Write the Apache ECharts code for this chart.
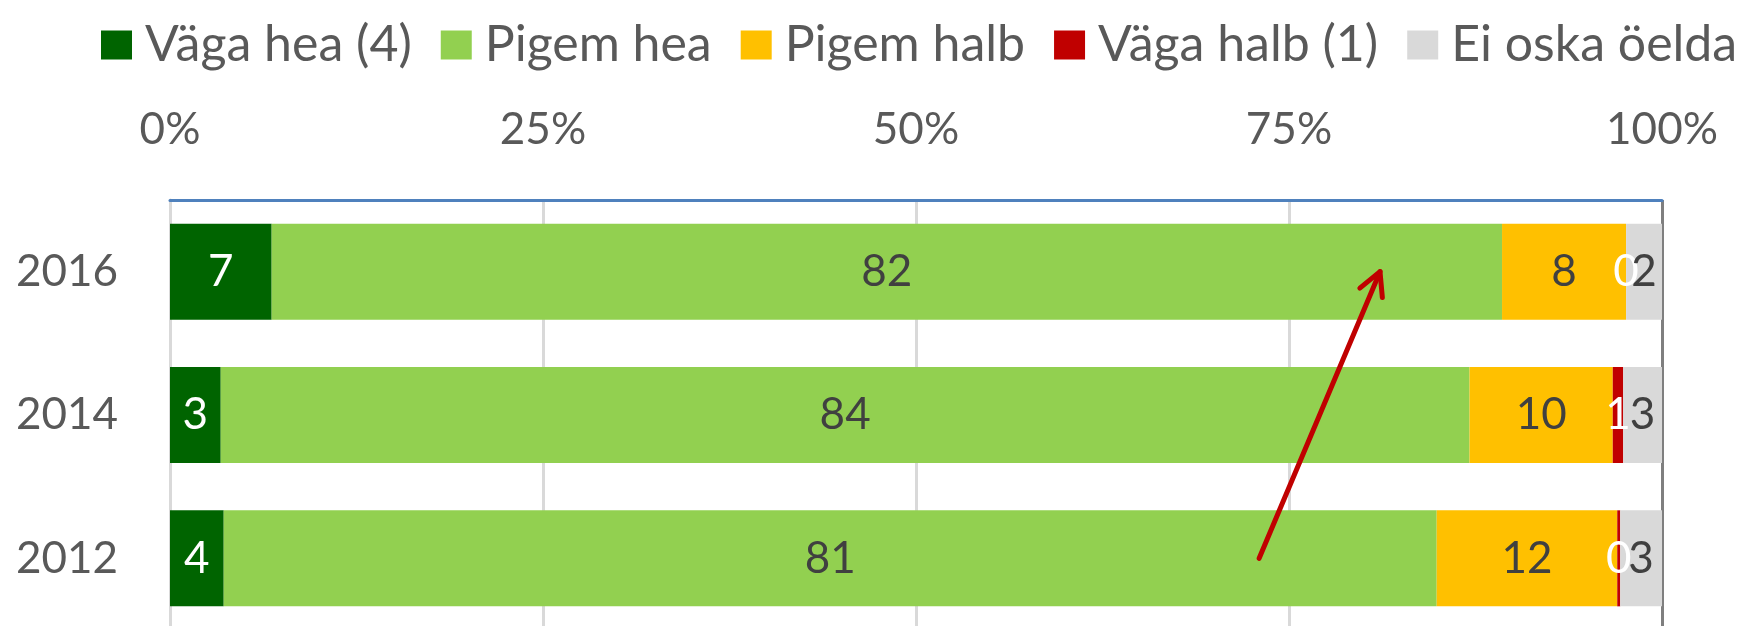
<!DOCTYPE html>
<html>
<head>
<meta charset="utf-8">
<title>Hinnang</title>
<script src="https://cdn.jsdelivr.net/npm/echarts@6/dist/echarts.min.js"></script>
<style>
    html, body { margin: 0; padding: 0; background: #fff; }
    #main { width: 1744px; height: 626px; }
</style>
</head>
<body>
<div id="main"></div>
<script>
// aastad (alt üles)
var years = ['2012', '2014', '2016'];
var seriesNames = ['Väga hea (4)', 'Pigem hea', 'Pigem halb', 'Väga halb (1)', 'Ei oska öelda'];
var seriesColors = ['#006400', '#92D050', '#FFC000', '#C00000', '#D9D9D9'];
var labelColors = ['#ffffff', '#404040', '#404040', '#ffffff', '#404040'];

// vastuste osakaalud, loetud pildilt (2012, 2014, 2016)
var vagaHea = [3.6, 3.4, 6.8];
var pigemHea = [81.3, 83.7, 82.3];
var pigemHalb = [12.1, 9.6, 8.3];
var vagaHalb = [0.2, 0.7, 0];
var eiOska = [2.8, 2.6, 2.4];

var tickLabels = ['0%', '25%', '50%', '75%', '100%'];

var rows = [vagaHea, pigemHea, pigemHalb, vagaHalb, eiOska];
var font = 'Lato';

var myChart = echarts.init(document.getElementById('main'));

// 100% kuhjatud: iga aasta summa = 100
var totals = years.map(function(y, i) {
    return rows.reduce(function(s, r) { return s + r[i]; }, 0);
});

var series = rows.map(function(r, k) {
    return {
        name: seriesNames[k],
        type: 'bar',
        stack: 'kokku',
        barCategoryGap: '33%',
        itemStyle: { color: seriesColors[k] },
        label: {
            show: true,
            position: 'inside',
            color: labelColors[k],
            fontFamily: font,
            fontSize: 44,
            formatter: function(p) {
                return Math.round(r[p.dataIndex]);
            }
        },
        data: r.map(function(v, i) { return v / totals[i] * 100; })
    };
});

var option = {
    animation: false,
    textStyle: { fontFamily: font },
    color: seriesColors,
    legend: {
        data: seriesNames,
        left: 101,
        top: 20,
        padding: 0,
        itemWidth: 31,
        itemHeight: 29,
        itemGap: 29,
        icon: 'rect',
        textStyle: {
            color: '#595959',
            fontFamily: font,
            fontSize: 50,
            padding: [0, 0, 0, 8]
        }
    },
    grid: {
        left: 170,
        right: 82,
        top: 200,
        height: 430,
        outerBoundsMode: 'none'
    },
    xAxis: {
        type: 'value',
        position: 'top',
        min: 0,
        max: 100,
        interval: 25,
        axisLine: { show: true, lineStyle: { color: '#4F81BD', width: 3 } },
        axisTick: { show: false },
        axisLabel: {
            color: '#595959',
            fontSize: 44,
            fontFamily: font,
            margin: 48,
            formatter: function(v) { return tickLabels[v / 25]; }
        },
        splitLine: {
            show: true,
            lineStyle: {
                color: ['#D9D9D9', '#D9D9D9', '#D9D9D9', '#D9D9D9', '#7F7F7F'],
                width: 3
            }
        }
    },
    yAxis: {
        type: 'category',
        data: years,
        axisLine: { show: true, lineStyle: { color: '#D9D9D9', width: 3 } },
        axisTick: { show: false },
        axisLabel: {
            color: '#595959',
            fontSize: 44,
            fontFamily: font,
            margin: 52
        }
    },
    series: series
};

myChart.setOption(option);

// punane nool 2012 -> 2016
var p0 = myChart.convertToPixel({ gridIndex: 0 }, [73.0, 0.035]);
var p1 = myChart.convertToPixel({ gridIndex: 0 }, [81.1, 2.02]);
var dx = p0[0] - p1[0], dy = p0[1] - p1[1];
var len = Math.sqrt(dx * dx + dy * dy);
var ux = dx / len, uy = dy / len;
var head = 26, ang = 28 * Math.PI / 180;
function wing(a) {
    return [
        p1[0] + head * (ux * Math.cos(a) - uy * Math.sin(a)),
        p1[1] + head * (ux * Math.sin(a) + uy * Math.cos(a))
    ];
}
myChart.setOption({
    graphic: [{
        type: 'group',
        silent: true,
        z: 100,
        children: [{
            type: 'line',
            z: 100,
            shape: { x1: p0[0], y1: p0[1], x2: p1[0], y2: p1[1] },
            style: { stroke: '#C00000', lineWidth: 5, lineCap: 'round' }
        }, {
            type: 'polyline',
            z: 100,
            shape: { points: [wing(ang), p1, wing(-ang)] },
            style: { stroke: '#C00000', lineWidth: 5, lineCap: 'round', lineJoin: 'round', fill: null }
        }]
    }]
});
</script>
</body>
</html>
